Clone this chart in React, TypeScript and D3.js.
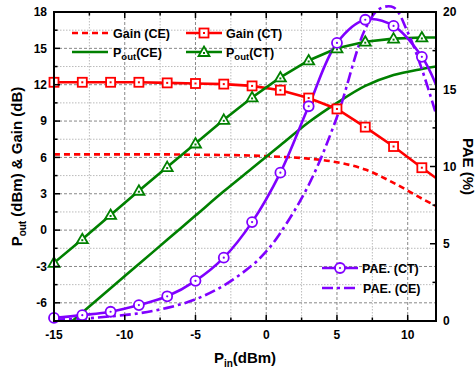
import React from 'react';
import * as d3 from 'd3';

// input power (dBm) for the measured points
const pin = [-15, -13, -11, -9, -7, -5, -3, -1, 1, 3, 5, 7, 9, 11, 12];
const gainCE = [6.25, 6.25, 6.25, 6.25, 6.25, 6.22, 6.2, 6.15, 6.05, 5.9, 5.6, 5.0, 3.9, 2.6, 2.0];
const gainCT = [12.2, 12.2, 12.2, 12.2, 12.15, 12.1, 12.05, 11.9, 11.55, 10.9, 10.0, 8.5, 6.9, 5.15, 4.3];
const poutCE = [-8.8, -6.8, -4.8, -2.8, -0.8, 1.2, 3.2, 5.1, 7.0, 8.9, 10.5, 11.9, 12.8, 13.3, 13.5];
const poutCT = [-2.7, -0.75, 1.25, 3.25, 5.2, 7.15, 9.1, 10.95, 12.6, 14.0, 15.0, 15.55, 15.8, 15.9, 15.9];
const paeCT = [0.2, 0.38, 0.6, 1.03, 1.6, 2.6, 4.1, 6.4, 9.6, 13.9, 18.0, 19.5, 19.1, 17.1, 15.3];
// PAE (CE) sampled a bit denser near the peak
const paeCEPin = [-15, -13, -11, -9, -7, -5, -3, -1, 0, 1, 3, 5, 7, 8, 9, 10, 11, 12];
const paeCE = [0.08, 0.15, 0.3, 0.5, 0.85, 1.4, 2.3, 3.6, 4.5, 5.7, 8.8, 13.2, 18.9, 20.2, 20.3, 18.7, 16.3, 13.4];

const leftTicks = [-6, -3, 0, 3, 6, 9, 12, 15, 18];
const rightTicks = [0, 5, 10, 15, 20];
const xTicks = [-15, -10, -5, 0, 5, 10];

const width = 476;
const height = 371;
const margin = { top: 12, right: 40, bottom: 50, left: 54 };

const RED = '#ff0000';
const GREEN = '#008000';
const PURPLE = '#8000ff';
const FONT = '"Liberation Sans", Arial, sans-serif';

const App: React.FC = () => {
  const x = d3.scaleLinear().domain([-15, 12]).range([margin.left, width - margin.right]);
  const y = d3.scaleLinear().domain([-7.5, 18]).range([height - margin.bottom, margin.top]);
  const y2 = d3.scaleLinear().domain([0, 20]).range([height - margin.bottom, margin.top]);

  const x0 = x.range()[0], x1 = x.range()[1];
  const yB = y.range()[0], yT = y.range()[1];

  const lineL = (vals: number[], curve: d3.CurveFactory = d3.curveLinear) =>
    d3.line<number>().x((_, i) => x(pin[i])).y(d => y(d)).curve(curve)(vals) || '';

  const paeCTPath = d3.line<number>().x((_, i) => x(pin[i])).y(d => y2(d)).curve(d3.curveCatmullRom)(paeCT) || '';
  const paeCEPath = d3.line<number>().x((_, i) => x(paeCEPin[i])).y(d => y2(d)).curve(d3.curveCatmullRom)(paeCE) || '';

  const markerIdx = pin.map((_, i) => i).filter(i => pin[i] % 2 !== 0);

  // grid lines
  const vGrid = d3.range(-12.5, 12, 2.5);
  const hGrid = d3.range(-6, 18, 1.5);
  const isMajorX = (v: number) => v % 5 === 0;
  const isMajorY = (v: number) => v % 3 === 0;

  const square = (cx: number, cy: number, k: string) => (
    <g key={k}>
      <rect x={cx - 4.5} y={cy - 4.5} width={9} height={9} fill="white" stroke={RED} strokeWidth={1.8} />
      <rect x={cx - 1} y={cy - 1} width={2} height={2} fill={RED} />
    </g>
  );
  const tri = (cx: number, cy: number, k: string) => (
    <g key={k}>
      <path d={`M${cx},${cy - 5.5}L${cx + 5.5},${cy + 4}L${cx - 5.5},${cy + 4}Z`} fill="white" stroke={GREEN} strokeWidth={1.8} />
      <rect x={cx - 1} y={cy} width={2} height={2} fill={GREEN} />
    </g>
  );
  const circ = (cx: number, cy: number, k: string) => (
    <g key={k}>
      <circle cx={cx} cy={cy} r={5} fill="white" stroke={PURPLE} strokeWidth={1.8} />
      <circle cx={cx} cy={cy} r={1.1} fill={PURPLE} />
    </g>
  );

  const dashGain = '6,4';
  const dashDot = '11,4,3,4';

  return (
    <svg width={width} height={height} style={{ position: 'absolute', left: 0, top: 0, background: 'white' }}
      fontFamily={FONT} fontWeight="bold">
      <defs>
        <clipPath id="plot">
          <rect x={x0} y={yT} width={x1 - x0} height={yB - yT} />
        </clipPath>
      </defs>

      {/* grid */}
      {vGrid.map(v => (
        <line key={'vg' + v} x1={x(v)} x2={x(v)} y1={yT} y2={yB}
          stroke={isMajorX(v) ? '#888' : '#bbb'} strokeWidth={1} strokeDasharray={isMajorX(v) ? '3,2' : '1.5,1.5'} />
      ))}
      {hGrid.map(v => (
        <line key={'hg' + v} x1={x0} x2={x1} y1={y(v)} y2={y(v)}
          stroke={isMajorY(v) ? '#888' : '#bbb'} strokeWidth={1} strokeDasharray={isMajorY(v) ? '3,2' : '1.5,1.5'} />
      ))}

      {/* curves */}
      <g clipPath="url(#plot)" fill="none" strokeWidth={2.6}>
        <path d={lineL(gainCE, d3.curveCatmullRom)} stroke={RED} strokeDasharray={dashGain} />
        <path d={lineL(poutCE, d3.curveCatmullRom)} stroke={GREEN} />
        <path d={lineL(gainCT)} stroke={RED} />
        <path d={lineL(poutCT)} stroke={GREEN} />
        <path d={paeCTPath} stroke={PURPLE} />
      </g>
      <path d={paeCEPath} fill="none" stroke={PURPLE} strokeWidth={2.6} strokeDasharray={dashDot} />
      {markerIdx.concat([0]).filter((v, i, a) => a.indexOf(v) === i).map(i => square(x(pin[i]), y(gainCT[i]), 's' + i))}
      {markerIdx.map(i => tri(x(pin[i]), y(poutCT[i]), 't' + i))}
      {markerIdx.map(i => circ(x(pin[i]), y2(paeCT[i]), 'c' + i))}

      {/* frame */}
      <rect x={x0} y={yT} width={x1 - x0} height={yB - yT} fill="none" stroke="black" strokeWidth={2} />

      {/* x ticks bottom + top */}
      {d3.range(-15, 12.01, 2.5).map(v => {
        const len = isMajorX(v) ? 6 : 3.5;
        return (
          <g key={'xt' + v} stroke="black" strokeWidth={1.5}>
            <line x1={x(v)} x2={x(v)} y1={yB} y2={yB - len} />
            <line x1={x(v)} x2={x(v)} y1={yT} y2={yT + len} />
          </g>
        );
      })}
      {/* left ticks */}
      {d3.range(-6, 18.01, 1.5).map(v => (
        <line key={'lt' + v} x1={x0} x2={x0 + (isMajorY(v) ? 6 : 3.5)} y1={y(v)} y2={y(v)} stroke="black" strokeWidth={1.5} />
      ))}
      {/* right ticks */}
      {d3.range(0, 20.01, 2.5).map(v => (
        <line key={'rt' + v} x1={x1} x2={x1 - (v % 5 === 0 ? 6 : 3.5)} y1={y2(v)} y2={y2(v)} stroke="black" strokeWidth={1.5} />
      ))}

      {/* tick labels */}
      <g fontSize={12} fill="black">
        {leftTicks.map(v => (
          <text key={'ll' + v} x={x0 - 7} y={y(v) + 4.3} textAnchor="end">{v}</text>
        ))}
        {[18].map(v => null)}
        {rightTicks.map(v => (
          <text key={'rl' + v} x={x1 + 7} y={y2(v) + 4.3}>{v}</text>
        ))}
        {xTicks.map(v => (
          <text key={'xl' + v} x={x(v)} y={yB + 18} textAnchor="middle">{v}</text>
        ))}
      </g>

      {/* axis titles */}
      <text x={245} y={363} textAnchor="middle" fontSize={15}>
        P<tspan fontSize={10} dy={4}>in</tspan><tspan dy={-4}>(dBm)</tspan>
      </text>
      <text transform={`translate(22,${(yT + yB) / 2}) rotate(-90)`} textAnchor="middle" fontSize={15}>
        P<tspan fontSize={10} dy={4}>out</tspan><tspan dy={-4}> (dBm) &amp; Gain (dB)</tspan>
      </text>
      <text transform={`translate(463,${(yT + yB) / 2}) rotate(90)`} textAnchor="middle" fontSize={15}>PAE (%)</text>

      {/* top-left legend */}
      <g fontSize={12.5}>
        <line x1={72} x2={108} y1={33} y2={33} stroke={RED} strokeWidth={2.6} strokeDasharray={dashGain} />
        <text x={113} y={37.5}>Gain (CE)</text>
        <line x1={186} x2={222} y1={33} y2={33} stroke={RED} strokeWidth={2.6} />
        {square(204, 33, 'lg1')}
        <text x={226} y={37.5}>Gain (CT)</text>
        <line x1={72} x2={108} y1={52} y2={52} stroke={GREEN} strokeWidth={2.6} />
        <text x={113} y={56.5}>P<tspan fontSize={9.5} dy={3.5}>out</tspan><tspan dy={-3.5}>(CE)</tspan></text>
        <line x1={186} x2={222} y1={52} y2={52} stroke={GREEN} strokeWidth={2.6} />
        {tri(204, 52, 'lg2')}
        <text x={226} y={56.5}>P<tspan fontSize={9.5} dy={3.5}>out</tspan><tspan dy={-3.5}>(CT)</tspan></text>
      </g>

      {/* bottom-right legend */}
      <g fontSize={12.5}>
        <line x1={322} x2={358} y1={268} y2={268} stroke={PURPLE} strokeWidth={2.6} />
        {circ(340, 268, 'lg3')}
        <text x={362} y={272.5}>PAE. (CT)</text>
        <line x1={322} x2={358} y1={288} y2={288} stroke={PURPLE} strokeWidth={2.6} strokeDasharray={dashDot} />
        <text x={363} y={292.5}>PAE. (CE)</text>
      </g>
    </svg>
  );
};

export default App;
